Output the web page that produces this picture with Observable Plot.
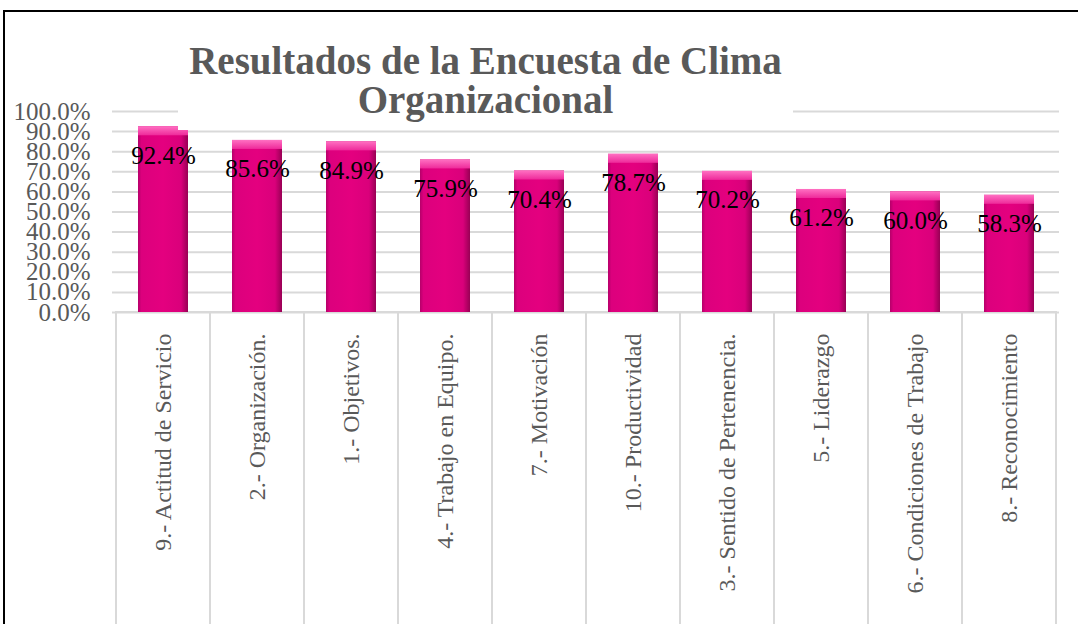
<!DOCTYPE html>
<html>
<head>
<meta charset="utf-8">
<script src="https://cdn.jsdelivr.net/npm/d3@7"></script>
<script src="https://cdn.jsdelivr.net/npm/@observablehq/plot@0.6"></script>
<style>
  html, body { margin: 0; padding: 0; background: #fff; overflow: hidden; }
  #wrap { position: relative; width: 1078px; height: 624px; overflow: hidden; }
  #frame { position: absolute; left: 3px; top: 10px; width: 1100px; height: 700px;
           border-left: 2.5px solid #000; border-top: 2.5px solid #000; pointer-events: none; z-index: 3; }
  #chart { position: absolute; left: 0; top: 0; }
  #title { position: absolute; left: 178px; top: 41px; width: 615px; height: 88.5px; background: #fff;
           font-family: "Liberation Serif", serif; font-weight: bold; font-size: 39px; line-height: 39px;
           color: #595959; text-align: center; z-index: 2; }
</style>
</head>
<body>
<div id="wrap">
  <div id="chart"></div>
  <div id="title">Resultados de la Encuesta de Clima<br>Organizacional</div>
  <div id="frame"></div>
</div>
<script>
const categories = [
  "9.- Actitud de Servicio",
  "2.- Organización.",
  "1.- Objetivos.",
  "4.- Trabajo en Equipo.",
  "7.- Motivación",
  "10.- Productividad",
  "3.- Sentido de Pertenencia.",
  "5.- Liderazgo",
  "6.- Condiciones de Trabajo",
  "8.- Reconocimiento"
];
const values = [0.924, 0.856, 0.849, 0.759, 0.704, 0.787, 0.702, 0.612, 0.600, 0.583];
const yTicks = [0, 0.1, 0.2, 0.3, 0.4, 0.5, 0.6, 0.7, 0.8, 0.9, 1.0];

const data = categories.map((c, i) => ({cat: c, v: values[i]}));
const pct = d3.format(".1%");

const chart = Plot.plot({
  width: 1078,
  height: 624,
  marginLeft: 112,
  marginRight: 19,
  marginTop: 111,
  marginBottom: 312,
  style: {fontFamily: "Liberation Serif, serif", color: "#595959", background: "transparent", overflow: "visible"},
  x: {domain: categories, padding: 0, axis: null, label: null},
  y: {domain: [0, 1], axis: null, label: null},
  marks: [
    Plot.gridY(yTicks, {stroke: "#d9d9d9", strokeWidth: 2, strokeOpacity: 1}),
    Plot.axisY(yTicks, {tickSize: 0, tickPadding: 22, tickFormat: pct, fontSize: 25, fill: "#595959", label: null}),
    Plot.barY(data, {x: "cat", y1: 0, y2: -1.6, fill: "none", stroke: "#d9d9d9", strokeWidth: 2}),
    Plot.barY(data, {x: "cat", y: "v", insetLeft: 22, insetRight: 22, fill: "url(#barGrad)", ariaLabel: "mainbars"}),
    Plot.barY(data, {x: "cat", y1: "v", y2: "v", insetBottom: -9, insetLeft: 22, insetRight: 22, fill: "url(#bevelGrad)", ariaLabel: "bevel"}),
    Plot.text(data, {x: "cat", y: "v", text: d => pct(d.v), dy: 29, fontSize: 25, fill: "#000"}),
    Plot.text(data, {x: "cat", y: 0, text: "cat", rotate: -90, textAnchor: "end", dy: 21, fontSize: 24, fill: "#595959"})
  ]
});

const svg = d3.select(chart);
const defs = svg.insert("defs", ":first-child");
const g1 = defs.append("linearGradient").attr("id", "barGrad").attr("x1", "0").attr("x2", "1").attr("y1", "0").attr("y2", "0");
[["0%", "#b5006a"], ["7%", "#dc007d"], ["50%", "#e4007f"], ["86%", "#da007b"], ["100%", "#980054"]]
  .forEach(([o, c]) => g1.append("stop").attr("offset", o).attr("stop-color", c));
const g2 = defs.append("linearGradient").attr("id", "bevelGrad").attr("x1", "0").attr("x2", "0").attr("y1", "0").attr("y2", "1");
[["0%", "#ff70c2"], ["100%", "#ee2a9a"]]
  .forEach(([o, c]) => g2.append("stop").attr("offset", o).attr("stop-color", c));
const f = defs.append("filter").attr("id", "shadow").attr("x", "-20%").attr("y", "-10%").attr("width", "150%").attr("height", "130%");
f.append("feDropShadow").attr("dx", 3).attr("dy", 2).attr("stdDeviation", 2).attr("flood-color", "#000").attr("flood-opacity", 0.35);
svg.selectAll('g[aria-label="mainbars"]').attr("filter", "url(#shadow)");

document.getElementById("chart").appendChild(chart);
</script>
</body>
</html>
